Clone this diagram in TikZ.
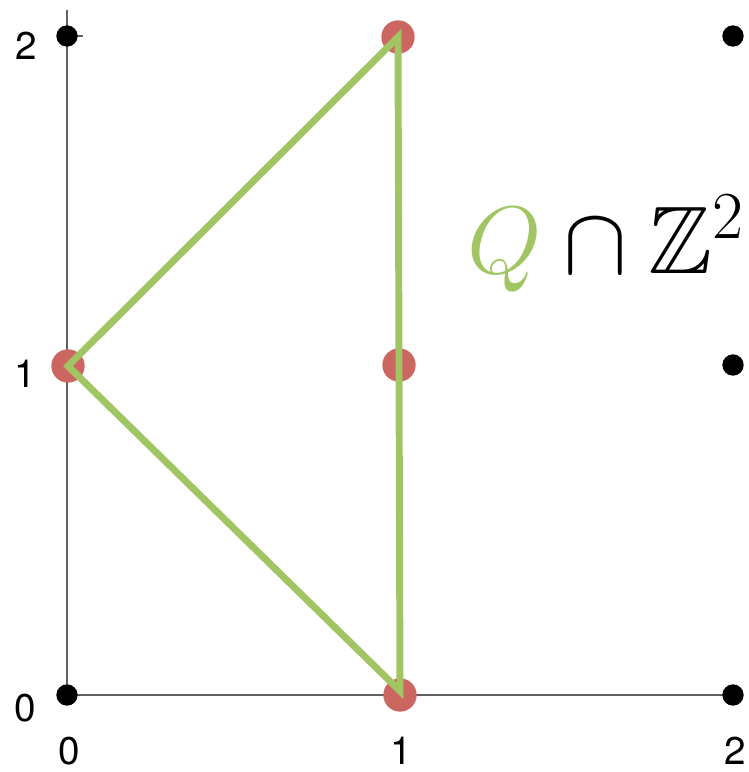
\RequirePackage{fix-cm}
\documentclass[tikz,border=0pt]{standalone}
\usepackage{amssymb}
\usepackage{fontspec}
\setsansfont{TeX Gyre Heros}
\definecolor{qgreen}{HTML}{A2C563}
\definecolor{ptred}{HTML}{CC6660}
\definecolor{axisgray}{HTML}{606060}
\tikzset{
  blackdot/.style={circle,fill=black,inner sep=0pt,minimum size=16pt},
  reddot/.style={circle,fill=ptred,inner sep=0pt,minimum size=25pt},
  axisline/.style={draw=axisgray,line width=1.8pt},
  ticklabel/.style={font=\sffamily\fontsize{29}{34}\selectfont,inner sep=0pt,anchor=center},
  qline/.style={draw=qgreen,line width=5.2pt,line join=miter}
}
\begin{document}
\begin{tikzpicture}[x=0.75pt,y=-0.75pt]
\useasboundingbox (0,0) rectangle (749,772);
% axes
\coordinate (ytop) at (67,10);
\coordinate (origin) at (67,695);
\coordinate (xend) at (733,695);
\coordinate (tickend) at (83,36);
\draw[axisline] (ytop) -- (origin) -- (xend);
\draw[axisline] (67,36) -- (tickend);
% lattice points
\node[blackdot] (p00) at (67,695) {};
\node[blackdot] (p02) at (67,36) {};
\node[blackdot] (p22) at (733,36) {};
\node[blackdot] (p21) at (733,365) {};
\node[blackdot] (p20) at (733,695) {};
\node[reddot] (p12) at (398,37) {};
\node[reddot] (p01) at (68,366) {};
\node[reddot] (p11) at (399,365) {};
\node[reddot] (p10) at (400,695) {};
% polygon Q
\draw[qline] (p12.center) -- (p01.center) -- (400,691) -- cycle;
% labels
\node[ticklabel] (ly2) at (26,46) {2};
\node[ticklabel] (ly1) at (25,374) {1};
\node[ticklabel] (ly0) at (25,708) {0};
\node[ticklabel] (lx0) at (69,751) {0};
\node[ticklabel] (lx1) at (401,751) {1};
\node[ticklabel] (lx2) at (735,751) {2};
% Q cap Z^2
\node[anchor=base west,inner sep=0pt] (qlabel) at (467,273)
  {\fontsize{72}{86}\selectfont $\color{qgreen}Q\color{black}\cap\mathbb{Z}^2$};
\end{tikzpicture}
\end{document}
